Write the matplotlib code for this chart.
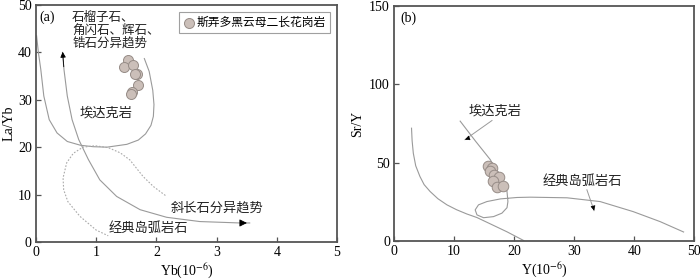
import matplotlib
matplotlib.use("Agg")
import matplotlib.pyplot as plt

plt.rcParams["font.family"] = ["Liberation Serif", "Noto Sans CJK SC", "DejaVu Sans"]
plt.rcParams["mathtext.fontset"] = "stix"

CJK = ["Noto Sans CJK SC", "DejaVu Sans"]

# (a) Yb vs La/Yb
a_yb = [1.533, 1.462, 1.616, 1.673, 1.640, 1.694, 1.595, 1.573]
a_layb = [38.35, 36.9, 37.35, 35.5, 35.4, 33.1, 31.7, 31.3]

adakite_a_x = [0.01, 0.04, 0.08, 0.13, 0.22, 0.35, 0.52, 0.74, 0.95, 1.18, 1.51, 1.70,
               1.82, 1.91, 1.95, 1.96, 1.94, 1.88, 1.80]
adakite_a_y = [43.5, 40.0, 36.4, 30.8, 25.8, 23.0, 21.2, 20.4, 20.1, 20.0, 20.6, 21.5,
               22.8, 24.6, 26.5, 29.0, 32.0, 36.0, 38.7]

trend_a_x = [0.44, 0.465, 0.52, 0.60, 0.71, 0.87, 1.06, 1.34, 1.73, 2.17, 2.72, 3.39, 3.55]
trend_a_y = [40.0, 36.4, 30.8, 25.8, 21.6, 17.4, 13.1, 9.6, 6.8, 5.2, 4.3, 4.0, 4.0]

arc_a_x = [2.15, 1.95, 1.78, 1.56, 1.40, 1.20, 0.98, 0.78, 0.62, 0.51, 0.45, 0.46, 0.53, 0.73, 1.00, 1.20]
arc_a_y = [9.8, 11.7, 13.8, 17.3, 18.8, 19.9, 20.3, 20.0, 18.7, 16.7, 13.5, 11.0, 8.5, 5.4, 2.5, 1.3]

# (b) Y vs Sr/Y
b_y = [15.7, 16.3, 16.0, 16.6, 17.4, 16.5, 17.1, 18.2]
b_sry = [47.6, 46.6, 44.4, 42.3, 40.8, 38.5, 34.8, 35.4]

loop_b_x = [11.0, 13.5, 16.0, 17.5, 18.8, 18.95, 18.8, 17.95, 16.55, 14.9, 13.8, 13.5,
            14.05, 15.45, 17.7, 20.45, 22.7, 28.8, 34.3, 39.8, 44.3, 48.2]
loop_b_y = [76.5, 64.0, 52.0, 42.0, 31.6, 25.2, 21.3, 17.8, 15.6, 14.9, 16.7, 19.9,
            23.1, 25.2, 26.9, 27.8, 28.0, 27.6, 25.2, 18.8, 12.4, 5.8]

curve_b_x = [2.9, 3.0, 3.2, 3.6, 4.3, 5.0, 6.0, 7.3, 8.8, 10.4, 12.1, 13.8, 16.0, 18.8, 21.6]
curve_b_y = [72.0, 64.0, 56.0, 48.0, 41.2, 36.0, 31.6, 27.0, 23.1, 20.0, 17.3, 15.0, 11.0, 5.9, 0.3]

pt_face = "#cbbfb9"
pt_edge = "#968c87"
line_c = "#9a9a9a"
frame_c = "#555555"

fig = plt.figure(figsize=(7, 2.8), dpi=100)
ax1 = fig.add_axes([0.0514, 0.136, 0.430, 0.846])
ax2 = fig.add_axes([0.563, 0.139, 0.429, 0.840])


def style_axes(ax):
    for s in ax.spines.values():
        s.set_color(frame_c)
        s.set_linewidth(1.3)
    ax.tick_params(direction="in", length=3.5, width=0.9, color=frame_c,
                   labelsize=10, pad=3)


# panel a
ax1.plot(adakite_a_x, adakite_a_y, color=line_c, lw=0.8)
ax1.plot(trend_a_x, trend_a_y, color=line_c, lw=0.8)
ax1.plot(arc_a_x, arc_a_y, color="#aaaaaa", lw=0.8, ls=(0, (1.5, 1.5)))
ax1.annotate("", xy=(trend_a_x[0], 40.7), xytext=(trend_a_x[1], 36.4),
             arrowprops=dict(arrowstyle="-|>", color="k", lw=0.6, mutation_scale=8))
ax1.annotate("", xy=(trend_a_x[-1], trend_a_y[-1]), xytext=(trend_a_x[-2], trend_a_y[-2]),
             arrowprops=dict(arrowstyle="-|>", color="k", lw=0.6, mutation_scale=11))
ax1.scatter(a_yb, a_layb, s=52, facecolor=pt_face, edgecolor=pt_edge, lw=0.7, zorder=3,
            label="斯弄多黑云母二长花岗岩")

ax1.text(0.6, 48.8, "石榴子石、\n角闪石、辉石、\n锆石分异趋势", family=CJK, fontsize=9,
         va="top", ha="left", linespacing=1.0, color="#222222")
ax1.text(0.73, 27.3, "埃达克岩", family=CJK, fontsize=9.5, va="center", color="#222222")
ax1.text(2.23, 7.2, "斜长石分异趋势", family=CJK, fontsize=9.5, va="center", color="#222222")
ax1.text(1.2, 2.75, "经典岛弧岩石", family=CJK, fontsize=9.5, va="center", color="#222222")
ax1.text(0.05, 48.9, "(a)", fontsize=10, va="top")

leg = ax1.legend(loc="upper right", bbox_to_anchor=(0.995, 0.997), frameon=True,
                 fancybox=False, edgecolor="#888888", handletextpad=0.1,
                 borderpad=0.35, handlelength=1.0, prop={"family": CJK, "size": 8.5})
leg.get_frame().set_linewidth(0.8)

ax1.set_xlim(0, 5)
ax1.set_ylim(0, 50)
ax1.set_xticks([0, 1, 2, 3, 4, 5])
ax1.set_yticks([0, 10, 20, 30, 40, 50])
ax1.set_xlabel(r"Yb(10$^{-6}$)", fontsize=10, labelpad=2)
ax1.set_ylabel("La/Yb", fontsize=10, labelpad=2)
style_axes(ax1)

# panel b
ax2.plot(loop_b_x, loop_b_y, color=line_c, lw=0.8)
ax2.plot(curve_b_x, curve_b_y, color=line_c, lw=0.8)
ax2.scatter(b_y, b_sry, s=58, facecolor=pt_face, edgecolor=pt_edge, lw=0.7, zorder=3)

ax2.plot([16.3, 11.8], [76.9, 64.7], color=line_c, lw=0.7)
ax2.annotate("", xy=(11.8, 64.7), xytext=(12.6, 65.9),
             arrowprops=dict(arrowstyle="-|>", color="k", lw=0.5, mutation_scale=7))
ax2.plot([32.1, 33.3], [32.7, 19.4], color=line_c, lw=0.7)
ax2.annotate("", xy=(33.3, 19.4), xytext=(33.2, 21.0),
             arrowprops=dict(arrowstyle="-|>", color="k", lw=0.5, mutation_scale=7))

ax2.text(12.4, 82.9, "埃达克岩", family=CJK, fontsize=9.5, va="center", color="#222222")
ax2.text(24.8, 38.0, "经典岛弧岩石", family=CJK, fontsize=9.5, va="center", color="#222222")
ax2.text(1.0, 146.5, "(b)", fontsize=10, va="top")

ax2.set_xlim(0, 50)
ax2.set_ylim(0, 150)
ax2.set_xticks([0, 10, 20, 30, 40, 50])
ax2.set_yticks([0, 50, 100, 150])
ax2.set_xlabel(r"Y(10$^{-6}$)", fontsize=10, labelpad=2)
ax2.set_ylabel("Sr/Y", fontsize=10, labelpad=4)
style_axes(ax2)

fig.savefig("out.png", dpi=100)
